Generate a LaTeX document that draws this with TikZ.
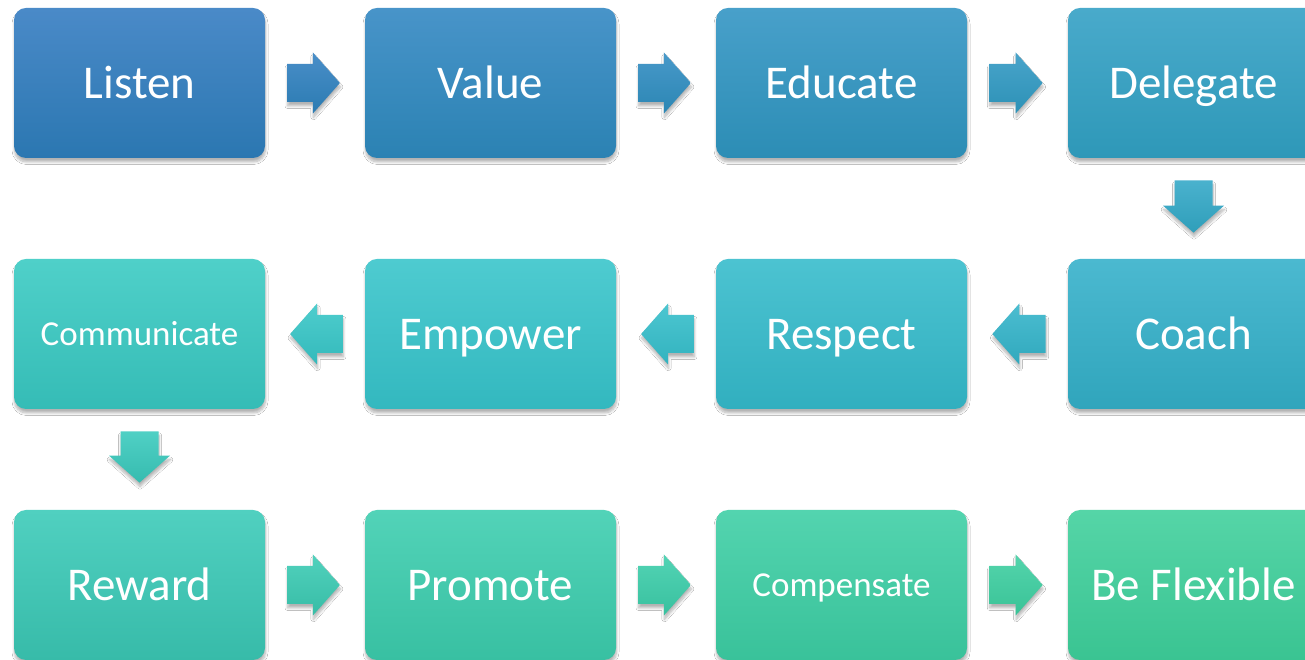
\documentclass[tikz,border=0pt]{standalone}
\usepackage{fontspec}
\setmainfont{Carlito}
\usetikzlibrary{calc,shadows.blur}
\definecolor{t0}{HTML}{4A8AC8}\definecolor{b0}{HTML}{2B77B1}
\definecolor{t1}{HTML}{4894C9}\definecolor{b1}{HTML}{2B82B3}
\definecolor{t2}{HTML}{48A0CA}\definecolor{b2}{HTML}{2C8DB5}
\definecolor{t3}{HTML}{49AACB}\definecolor{b3}{HTML}{2E98B8}
\definecolor{t4}{HTML}{4BB9D0}\definecolor{b4}{HTML}{30A5BC}
\definecolor{t5}{HTML}{4CC3D1}\definecolor{b5}{HTML}{31AFBF}
\definecolor{t6}{HTML}{4ECBD0}\definecolor{b6}{HTML}{33B8BF}
\definecolor{t7}{HTML}{4FD0C9}\definecolor{b7}{HTML}{35BCB6}
\definecolor{t8}{HTML}{50D0C0}\definecolor{b8}{HTML}{37BBA9}
\definecolor{t9}{HTML}{52D3B8}\definecolor{b9}{HTML}{38C0A2}
\definecolor{t10}{HTML}{53D4AF}\definecolor{b10}{HTML}{39C29A}
\definecolor{t11}{HTML}{55D5A7}\definecolor{b11}{HTML}{3AC492}
\tikzset{
  softshadow/.style={blur shadow={shadow xshift=0.5pt,shadow yshift=-4pt,shadow blur radius=2.5pt,shadow blur steps=8,shadow opacity=30}},
  stepbox/.style={rectangle,rounded corners=12pt,minimum width=251pt,minimum height=150pt,
    inner sep=0pt,text=white,font=\fontsize{47}{47}\selectfont,softshadow,
    text height=31pt,text depth=0pt,
    top color=t#1,bottom color=b#1},
  smalltext/.style={font=\fontsize{35}{35}\selectfont,text height=23pt}
}
\newcommand\blockarrow[4]{%
  \coordinate (bt) at (#1);
  \coordinate (bp) at (#2);
  \coordinate (bh) at ($(bp)!27pt!(bt)$);
  \shade[top color=#3,bottom color=#4,softshadow]
    ($(bt)!19pt!90:(bp)$) -- ($(bh)!19pt!90:(bp)$) -- ($(bh)!30.5pt!90:(bp)$) -- (bp)
    -- ($(bh)!30.5pt!-90:(bp)$) -- ($(bh)!19pt!-90:(bp)$) -- ($(bt)!19pt!-90:(bp)$) -- cycle;
}
\begin{document}
\begin{tikzpicture}[x=1pt,y=1pt]
\useasboundingbox[fill=white] (0,0) rectangle (1305,660);
\node[stepbox=0]  (listen)   at (139.5,577) {Listen};
\node[stepbox=1]  (value)    at (490.5,577) {Value};
\node[stepbox=2]  (educate)  at (841.5,577) {Educate};
\node[stepbox=3]  (delegate) at (1193.5,577) {Delegate};
\node[stepbox=4]  (coach)    at (1193.5,326) {Coach};
\node[stepbox=5]  (respect)  at (841.5,326) {Respect};
\node[stepbox=6]  (empower)  at (490.5,326) {Empower};
\node[stepbox=7,smalltext]  (communicate) at (139.5,326) {Communicate};
\node[stepbox=8]  (reward)   at (139.5,75) {Reward};
\node[stepbox=9]  (promote)  at (490.5,75) {Promote};
\node[stepbox=10,smalltext] (compensate) at (841.5,75) {Compensate};
\node[stepbox=11] (flexible) at (1193.5,75) {Be Flexible};
% arrows
\blockarrow{$(listen.east)!0.22!(value.west)$}{$(listen.east)!0.75!(value.west)$}{t0!60!t1}{b0!60!b1}
\blockarrow{$(value.east)!0.22!(educate.west)$}{$(value.east)!0.75!(educate.west)$}{t1!60!t2}{b1!60!b2}
\blockarrow{$(educate.east)!0.22!(delegate.west)$}{$(educate.east)!0.75!(delegate.west)$}{t2!60!t3}{b2!60!b3}
\blockarrow{$(delegate.south)!0.22!(coach.north)$}{$(delegate.south)!0.74!(coach.north)$}{t3!50!t4}{b3!50!b4}
\blockarrow{$(coach.west)!0.22!(respect.east)$}{$(coach.west)!0.75!(respect.east)$}{t4!60!t5}{b4!60!b5}
\blockarrow{$(respect.west)!0.22!(empower.east)$}{$(respect.west)!0.75!(empower.east)$}{t5!60!t6}{b5!60!b6}
\blockarrow{$(empower.west)!0.22!(communicate.east)$}{$(empower.west)!0.75!(communicate.east)$}{t6!60!t7}{b6!60!b7}
\blockarrow{$(communicate.south)!0.22!(reward.north)$}{$(communicate.south)!0.73!(reward.north)$}{t7!50!t8}{b7!50!b8}
\blockarrow{$(reward.east)!0.22!(promote.west)$}{$(reward.east)!0.75!(promote.west)$}{t8!60!t9}{b8!60!b9}
\blockarrow{$(promote.east)!0.22!(compensate.west)$}{$(promote.east)!0.75!(compensate.west)$}{t9!60!t10}{b9!60!b10}
\blockarrow{$(compensate.east)!0.22!(flexible.west)$}{$(compensate.east)!0.75!(flexible.west)$}{t10!60!t11}{b10!60!b11}
\end{tikzpicture}
\end{document}
